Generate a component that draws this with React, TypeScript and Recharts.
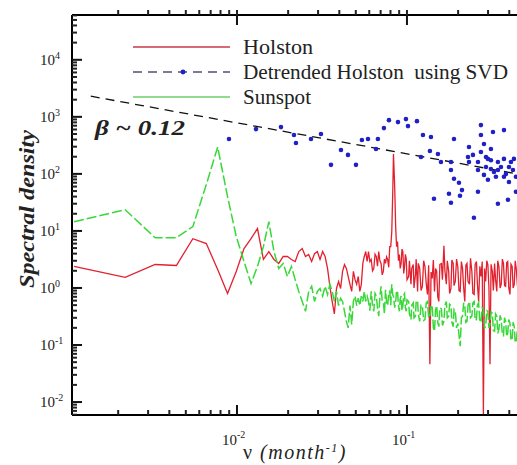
import React from 'react';
import { ComposedChart, Line, Scatter, XAxis, YAxis } from 'recharts';

// Frequencies (month^-1) shared by the Holston and Sunspot spectra
const freq = [
  0.0011, 0.0022, 0.0033, 0.0044, 0.0055, 0.0066, 0.0077, 0.0088, 0.0099, 0.011,
  0.0121, 0.0132, 0.0143, 0.0154, 0.0165, 0.0176, 0.0187, 0.0198, 0.0209, 0.022,
  0.0231, 0.0242, 0.0253, 0.0264, 0.0275, 0.0286, 0.0297, 0.0308, 0.0319, 0.033,
  0.0341, 0.0352, 0.0363, 0.0374, 0.0385, 0.0396, 0.0407, 0.0418, 0.0429, 0.044,
  0.0451, 0.0462, 0.0473, 0.0484, 0.0495, 0.0506, 0.0517, 0.0528, 0.0539, 0.055,
  0.0561, 0.0572, 0.0583,
  0.0594, 0.0605, 0.0616, 0.0627, 0.0638, 0.0649, 0.066, 0.0671, 0.0682, 0.0693,
  0.0704, 0.0715, 0.0726, 0.0737, 0.0748, 0.0759, 0.077, 0.0781, 0.0792, 0.0803,
  0.0814, 0.0825, 0.0833, 0.0847, 0.0858, 0.0869, 0.088, 0.0891, 0.0902, 0.0913,
  0.0924, 0.0935, 0.0946, 0.0957, 0.0968, 0.0979, 0.099, 0.1001, 0.1023, 0.1034,
  0.1056, 0.1067, 0.1089, 0.11, 0.1122, 0.1133, 0.1155, 0.1166, 0.1188, 0.121,
  0.1232, 0.1254, 0.1276, 0.1298, 0.132, 0.1342, 0.1364, 0.1386, 0.1408, 0.143,
  0.1452, 0.1474, 0.1496, 0.1518, 0.154, 0.1562, 0.1595, 0.1617, 0.165, 0.1672,
  0.1705, 0.1727, 0.176, 0.1782, 0.1815, 0.1837, 0.187, 0.1892, 0.1925, 0.1958,
  0.1991, 0.2024, 0.2057, 0.209, 0.2123, 0.2156, 0.2189, 0.2222, 0.2255, 0.2288,
  0.2332, 0.2365, 0.2409, 0.2442, 0.2486, 0.2519, 0.2563, 0.2596, 0.264, 0.2684,
  0.2728, 0.2772, 0.2816, 0.286, 0.2904, 0.2948, 0.2992, 0.3036, 0.308, 0.3124,
  0.3179, 0.3223, 0.3278, 0.3322, 0.3377, 0.3421, 0.3476, 0.3531, 0.3586, 0.3641,
  0.3696, 0.3751, 0.3806, 0.3861, 0.3916, 0.3971, 0.4037, 0.4092, 0.4158, 0.4213,
  0.4279, 0.4334, 0.44, 0.4466, 0.4532,
];

const holston = [
  2.38, 1.53, 2.58, 2.48, 7.3, 6.0, 2.1, 0.8, 1.95, 4.9,
  7.3, 11, 3.16, 4.35, 3.16, 2.69, 3.56, 3.56, 3.16, 2.91,
  4.35, 4.9, 3.56, 3.86, 2.91, 4.0, 4.35, 3.16, 4.35, 3.56,
  2.2, 1.07, 0.58, 0.35, 0.98, 1.3, 0.98, 1.95, 2.58, 2.2,
  1.59, 1.16, 0.87, 1.95, 1.4, 1.16, 1.59, 0.87, 1.16, 2.69,
  3.56, 4.35, 2.91,
  4.35, 2.9, 3.16, 2.0, 2.2, 3.9, 3.56, 2.4, 4.35, 3.0,
  2.69, 1.7, 1.95, 3.2, 2.69, 3.5, 3.16, 2.3, 5.3, 5.3,
  9.7, 48, 223, 59, 11.9, 5.3, 6.5, 3.0, 3.86, 2.2,
  2.69, 4.8, 4.35, 1.8, 2.38, 3.9, 3.29, 1.4, 1.59, 3.0,
  1.16, 2.2, 2.58, 1.0, 1.73, 3.2, 0.87, 2.7, 2.2, 0.9,
  1.07, 3.0, 2.38, 1.2, 0.77, 2.5, 0.046, 1.9, 1.47, 3.1,
  0.87, 2.2, 1.95, 0.7, 0.58, 2.6, 2.69, 1.4, 5.5, 2.0,
  1.16, 3.0, 1.95, 0.8, 0.98, 3.1, 2.69, 1.1, 1.3, 3.2,
  2.38, 0.9, 0.87, 2.9, 2.2, 1.0, 0.58, 2.5, 2.69, 1.3,
  1.16, 3.3, 1.95, 0.8, 0.77, 2.6, 2.91, 1.2, 0.58, 2.4,
  1.59, 2.9, 0.0062, 2.2, 1.3, 3.0, 2.58, 1.0, 0.046, 2.6,
  1.95, 0.9, 2.69, 1.4, 0.87, 3.0, 2.38, 1.0, 1.16, 3.2,
  2.69, 1.1, 1.07, 2.8, 2.91, 1.0, 0.77, 2.6, 2.38, 1.0,
  1.16, 3.0, 2.1, 1.1, 1.3,
];

const sunspot = [
  14.5, 23.5, 7.6, 7.6, 11.9, 65, 296, 40, 8.0, 2.91,
  1.2, 2.38, 5.3, 14.5, 4.35, 2.2, 2.69, 1.59, 2.38, 1.4,
  0.87, 0.58, 0.39, 0.87, 1.07, 0.58, 0.87, 0.98, 0.72, 1.07,
  0.77, 1.16, 0.87, 0.58, 0.87, 0.49, 0.66, 0.58, 0.39, 0.26,
  0.2, 0.49, 0.23, 0.58, 0.72, 0.49, 0.66, 0.49, 0.72, 0.58,
  0.87, 0.58, 0.72,
  0.58, 0.4, 0.87, 0.5, 0.39, 0.8, 0.72, 0.45, 0.32, 0.7,
  1.07, 0.6, 0.58, 0.35, 0.93, 0.55, 0.49, 0.8, 0.87, 0.5,
  1.16, 0.75, 0.72, 0.45, 0.58, 0.9, 0.87, 0.5, 0.39, 0.65,
  0.72, 0.4, 0.49, 0.75, 0.8, 0.45, 0.39, 0.62, 0.58, 0.35,
  0.28, 0.5, 0.55, 0.3, 0.32, 0.6, 0.58, 0.36, 0.26, 0.5,
  0.49, 0.27, 0.28, 0.55, 0.58, 0.3, 0.32, 0.5, 0.49, 0.2,
  0.175, 0.42, 0.49, 0.25, 0.21, 0.45, 0.43, 0.22, 0.26, 0.5,
  0.58, 0.3, 0.32, 0.52, 0.49, 0.25, 0.21, 0.42, 0.39, 0.2,
  0.24, 0.15, 0.095, 0.3, 0.32, 0.55, 0.49, 0.25, 0.26, 0.5,
  0.58, 0.3, 0.32, 0.55, 0.58, 0.27, 0.28, 0.5, 0.55, 0.25,
  0.26, 0.45, 0.43, 0.2, 0.21, 0.4, 0.39, 0.2, 0.24, 0.38,
  0.36, 0.18, 0.175, 0.35, 0.32, 0.16, 0.19, 0.33, 0.28, 0.15,
  0.146, 0.3, 0.26, 0.14, 0.16, 0.28, 0.24, 0.12, 0.127, 0.25,
  0.21, 0.11, 0.117, 0.2, 0.175,
];

// Detrended Holston (SVD) spectrum points
const detrendFreq = [
  0.00897, 0.01294, 0.01815, 0.02164, 0.02223, 0.02725, 0.03119, 0.03573, 0.04091, 0.04497,
  0.05012, 0.05433, 0.05898, 0.06745, 0.06571, 0.0732, 0.07834, 0.08851, 0.09863, 0.1014,
  0.1145, 0.1242, 0.1384, 0.1208, 0.1365, 0.1521, 0.1585, 0.1815, 0.1891, 0.1442,
  0.1815, 0.1891, 0.2023, 0.2107, 0.2051, 0.1766, 0.1815, 0.2316, 0.2285, 0.2316,
  0.2617, 0.2724, 0.2724, 0.2838, 0.3119, 0.2995, 0.3206, 0.3721, 0.2477, 0.2617,
  0.3428, 0.3928, 0.4377, 0.2838, 0.3119, 0.3428, 0.3721, 0.4091, 0.2995, 0.3981,
  0.2445, 0.2617, 0.325, 0.3573, 0.3822, 0.4203, 0.3338, 0.2917, 0.4377, 0.2724,
  0.3428, 0.3721, 0.3981, 0.3119, 0.4259, 0.2917,
];
const detrendPower = [
  408, 610, 661, 479, 347, 408, 499, 144, 262, 215,
  144, 392, 408, 408, 273, 635, 875, 808, 912, 688,
  841, 479, 442, 198, 252, 223, 162, 162, 408, 36.6,
  117, 82, 70, 52, 41.3, 44.8, 31.2, 296, 198, 162,
  117, 716, 479, 334, 273, 183, 541, 586, 17, 48.5,
  30, 35.2, 48.5, 96, 122, 162, 183, 162, 79, 72,
  215, 162, 108, 132, 100, 117, 89, 132, 89, 242,
  117, 89, 132, 173, 183, 198,
];

// Power-law fit (beta ~ 0.12)
const fitFreq = [0.00138, 0.444];
const fitPower = [2300, 100];

// Axis ticks
const xDomain = [0.00107, 0.444];
const yDomain = [0.00593, 61000];
const xMajorTicks = [0.01, 0.1];
const xTickExps = ['-2', '-1'];
const yMajorTicks = [0.01, 0.1, 1, 10, 100, 1000, 10000];
const yTickExps = ['-2', '-1', '0', '1', '2', '3', '4'];

const minorTicks = (decades: number[], lo: number, hi: number) => {
  const out: number[] = [];
  decades.forEach((d) => {
    for (let m = 2; m <= 9; m++) {
      const v = d * m;
      if (v > lo && v < hi) out.push(v);
    }
  });
  return out;
};

const xMinorTicks = minorTicks([0.001, 0.01, 0.1], xDomain[0], xDomain[1]);
const yMinorTicks = minorTicks([0.001, 0.01, 0.1, 1, 10, 100, 1000, 10000], yDomain[0], yDomain[1]);
const xAllTicks = [...xMajorTicks, ...xMinorTicks].sort((a, b) => a - b);

const holstonData = freq.map((f, i) => ({ f, v: holston[i] }));
const sunspotData = freq.map((f, i) => ({ f, v: sunspot[i] }));
const detrendData = detrendFreq.map((f, i) => ({ f, v: detrendPower[i] }));
const fitData = fitFreq.map((f, i) => ({ f, v: fitPower[i] }));

// tick-mark anchor points on the frame (placed through the chart's scales)
const xBottomMajor = xMajorTicks.map((f) => ({ f, v: yDomain[0] }));
const xBottomMinor = xMinorTicks.map((f) => ({ f, v: yDomain[0] }));
const xTopMajor = xMajorTicks.map((f) => ({ f, v: yDomain[1] }));
const yLeftMajor = yMajorTicks.map((v) => ({ f: xDomain[0], v }));
const yLeftMinor = yMinorTicks.map((v) => ({ f: xDomain[0], v }));

const FONT = '"Liberation Serif", "Times New Roman", serif';

const BottomLabel = (props: any) => {
  const { x, y, payload } = props;
  const idx = xMajorTicks.indexOf(payload.value);
  if (idx < 0) return <g />;
  return (
    <text x={x - 15} y={y + 30} fontSize={15} fontFamily={FONT} fill="#222">
      10<tspan dy={-7} fontSize={10}>{xTickExps[idx]}</tspan>
    </text>
  );
};

const LeftLabel = (props: any) => {
  const { y, payload } = props;
  const idx = yMajorTicks.indexOf(payload.value);
  if (idx < 0) return <g />;
  return (
    <text x={40} y={y + 5} fontSize={15} fontFamily={FONT} fill="#222">
      10<tspan dy={-6} fontSize={10}>{yTickExps[idx]}</tspan>
    </text>
  );
};

// outward minor ticks on the top frame line
const TopTick = (props: any) => {
  const { x, y } = props;
  return <rect x={x - 1} y={y - 5} width={2} height={5} fill="#222" />;
};

const upMajor = (p: any) => <rect x={p.cx - 1} y={p.cy - 10} width={2} height={10} fill="#111" />;
const upMinor = (p: any) => <rect x={p.cx - 1} y={p.cy - 5} width={2} height={5} fill="#222" />;
const downMajor = (p: any) => <rect x={p.cx - 1} y={p.cy} width={2} height={10} fill="#111" />;
const rightMajor = (p: any) => <rect x={p.cx} y={p.cy - 1} width={10} height={2} fill="#111" />;
const rightMinor = (p: any) => <rect x={p.cx} y={p.cy - 1} width={5} height={2} fill="#222" />;

const dotShape = (p: any) => <circle cx={p.cx} cy={p.cy} r={2.3} fill="#2020c8" />;

export default function App() {
  return (
    <div style={{ position: 'absolute', left: 0, top: 0, width: 517, height: 465, background: '#fff' }}>
      <ComposedChart width={517} height={465} margin={{ top: 0, right: 0, bottom: 0, left: 0 }}>
        <XAxis
          dataKey="f"
          type="number"
          scale="log"
          domain={xDomain}
          allowDataOverflow
          ticks={xMajorTicks}
          interval={0}
          height={50}
          tickSize={0}
          tickMargin={0}
          tickLine={false}
          tick={<BottomLabel />}
          axisLine={{ stroke: '#000', strokeWidth: 2 }}
        />
        <XAxis
          xAxisId="top"
          orientation="top"
          dataKey="f"
          type="number"
          scale="log"
          domain={xDomain}
          allowDataOverflow
          ticks={xAllTicks}
          interval={0}
          height={15}
          tickSize={0}
          tickMargin={0}
          tickLine={false}
          tick={<TopTick />}
          axisLine={{ stroke: '#000', strokeWidth: 2 }}
        />
        <YAxis
          dataKey="v"
          type="number"
          scale="log"
          domain={yDomain}
          allowDataOverflow
          ticks={yMajorTicks}
          interval={0}
          width={72}
          tickSize={0}
          tickMargin={0}
          tickLine={false}
          tick={<LeftLabel />}
          axisLine={{ stroke: '#000', strokeWidth: 2 }}
        />
        <Line data={holstonData} dataKey="v" stroke="#e2202e" strokeWidth={1.3} dot={false} isAnimationActive={false} />
        <Line data={sunspotData} dataKey="v" stroke="#38d838" strokeWidth={1.5} strokeDasharray="10 3" dot={false} isAnimationActive={false} />
        <Line data={fitData} dataKey="v" stroke="#111" strokeWidth={1.3} strokeDasharray="9 6" dot={false} isAnimationActive={false} />
        <Scatter data={detrendData} dataKey="v" shape={dotShape} isAnimationActive={false} />
        <Scatter data={xBottomMajor} dataKey="v" shape={upMajor} isAnimationActive={false} />
        <Scatter data={xBottomMinor} dataKey="v" shape={upMinor} isAnimationActive={false} />
        <Scatter data={xTopMajor} dataKey="v" shape={downMajor} isAnimationActive={false} />
        <Scatter data={yLeftMajor} dataKey="v" shape={rightMajor} isAnimationActive={false} />
        <Scatter data={yLeftMinor} dataKey="v" shape={rightMinor} isAnimationActive={false} />
      </ComposedChart>
      <svg width={517} height={465} style={{ position: 'absolute', left: 0, top: 0, pointerEvents: 'none' }}>
        <g fontFamily={FONT}>
          <line x1={133} y1={47} x2={230} y2={47} stroke="#c8384a" strokeWidth={1.6} />
          <text x={243} y={54} fontSize={21} fill="#222" textLength={70} lengthAdjust="spacingAndGlyphs">Holston</text>
          <line x1={133} y1={72} x2={230} y2={72} stroke="#505078" strokeWidth={1.4} strokeDasharray="9 6" />
          <circle cx={183} cy={72} r={2.4} fill="#2020c8" />
          <text x={243} y={79} fontSize={21} fill="#222" style={{ whiteSpace: 'pre' }} textLength={265} lengthAdjust="spacingAndGlyphs">Detrended Holston  using SVD</text>
          <line x1={133} y1={97} x2={230} y2={97} stroke="#6ccf6c" strokeWidth={1.6} />
          <text x={243} y={104} fontSize={21} fill="#222" textLength={68} lengthAdjust="spacingAndGlyphs">Sunspot</text>
          <text x={95} y={135} fontSize={22} fontStyle="italic" fontWeight="bold" fill="#222" textLength={90} lengthAdjust="spacingAndGlyphs">β ~ 0.12</text>
          <text x={34} y={209} fontSize={20} fontStyle="italic" fontWeight="bold" fill="#222" textAnchor="middle" transform="rotate(-90 34 209)" textLength={158} lengthAdjust="spacingAndGlyphs">Spectral density</text>
          <text x={243} y={459} fontSize={20} fill="#222" letterSpacing={1.5}>
            ν <tspan fontStyle="italic">(month</tspan><tspan dy={-7} fontSize={12} fontStyle="italic">-1</tspan><tspan dy={7} fontStyle="italic">)</tspan>
          </text>
        </g>
      </svg>
    </div>
  );
}
